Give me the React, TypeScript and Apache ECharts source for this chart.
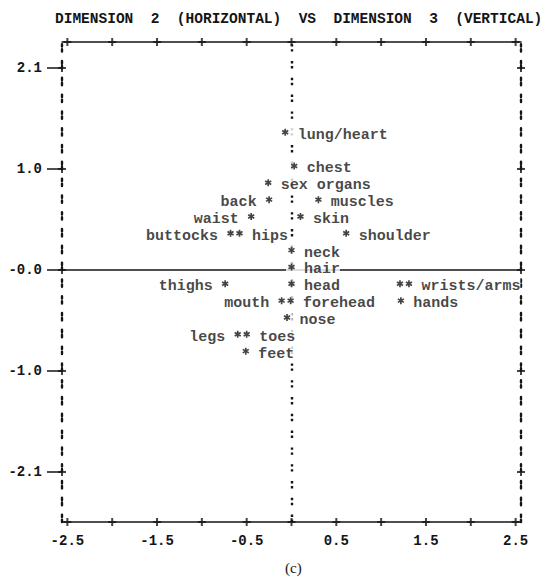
import React, { useEffect, useRef } from "react";
import * as echarts from "echarts";

// ---- data ----
const titleText = "DIMENSION  2  (HORIZONTAL)  VS  DIMENSION  3  (VERTICAL)";
const captionText = "(c)";
const xRange = [-2.56, 2.56];
const yRange = [-2.62, 2.37];
const xTickValues = [-2.5, -2, -1.5, -1, -0.5, 0, 0.5, 1, 1.5, 2, 2.5];
const xLabelValues = [-2.5, -1.5, -0.5, 0.5, 1.5, 2.5];
const yTickValues = [2.1, 1.05, 0, -1.05, -2.1];
const yTickLabels = ["2.1", "1.0", "-0.0", "-1.0", "-2.1"];

const pointNames = [
  "lung/heart", "chest", "sex organs", "back", "muscles", "waist", "skin",
  "buttocks", "hips", "shoulder", "neck", "hair", "thighs", "head", "wrists",
  "arms", "mouth", "forehead", "hands", "nose", "legs", "toes", "feet",
];
const pointX = [
  -0.07, 0.03, -0.26, -0.25, 0.3, -0.45, 0.1,
  -0.68, -0.58, 0.61, 0.0, 0.0, -0.74, 0.0, 1.21,
  1.31, -0.11, -0.01, 1.22, -0.05, -0.6, -0.5, -0.51,
];
const pointY = [
  1.4, 1.05, 0.875, 0.7, 0.7, 0.525, 0.525,
  0.35, 0.35, 0.35, 0.175, 0, -0.175, -0.175, -0.175,
  -0.175, -0.35, -0.35, -0.35, -0.525, -0.7, -0.7, -0.875,
];
const pointLabels = [
  "lung/heart", "chest", "sex organs", "back", "muscles", "waist", "skin",
  "buttocks", "hips", "shoulder", "neck", "hair", "thighs", "head", "",
  "wrists/arms", "mouth", "forehead", "hands", "nose", "legs", "toes", "feet",
];
const labelSide = [
  "right", "right", "right", "left", "right", "left", "right",
  "left", "right", "right", "right", "right", "left", "right", "none",
  "right", "left", "right", "right", "right", "left", "right", "right",
];

// ---- styling ----
const ink = "#151515";
const mono = "'Liberation Mono', 'DejaVu Sans Mono', monospace";
const colonDash = [2.4, 2.6, 2.4, 9.4];
// six-armed asterisk inside a 10x10 box
const asteriskPath =
  "path://M3.8,0 L6.2,0 L6.2,10 L3.8,10 Z " +
  "M0.07,3.54 L1.27,1.46 L9.93,6.46 L8.73,8.54 Z " +
  "M8.73,1.46 L9.93,3.54 L1.27,8.54 L0.07,6.46 Z";
const plusPath = "path://M3,0 L5,0 L5,3 L8,3 L8,5 L5,5 L5,8 L3,8 L3,5 L0,5 L0,3 L3,3 Z";

function buildOption() {
  const frameTicks: number[][] = [];
  xTickValues.forEach((x) => {
    frameTicks.push([x, yRange[1]]);
    frameTicks.push([x, yRange[0]]);
  });
  yTickValues.forEach((y) => {
    frameTicks.push([xRange[0], y]);
    frameTicks.push([xRange[1], y]);
  });

  const points = pointNames.map((name, i) => {
    const left = labelSide[i] === "left";
    return {
      name,
      value: [pointX[i], pointY[i]],
      label: {
        show: labelSide[i] !== "none",
        position: left ? "left" : "right",
        distance: 2,
        padding: left ? [1, 7, 1, 0] : [1, 0, 1, 7],
      },
    };
  });

  const cells = pointNames.map((_, i) => [pointX[i], pointY[i]]);

  const axisLabelStyle = {
    fontFamily: mono,
    fontWeight: "bold" as const,
    fontSize: 14,
    color: ink,
  };

  return {
    animation: false,
    backgroundColor: "#fff",
    title: [
      {
        text: titleText,
        left: 50,
        top: 6,
        textStyle: { fontFamily: mono, fontSize: 14.5, fontWeight: "bold", color: ink },
      },
      {
        text: captionText,
        left: 280,
        top: 555,
        textStyle: { fontFamily: "'Liberation Serif', serif", fontSize: 15, fontWeight: "normal", color: ink },
      },
    ],
    grid: { left: 62, right: 26, top: 42, bottom: 55 },
    xAxis: [
      {
        type: "value",
        position: "bottom",
        min: xRange[0],
        max: xRange[1],
        axisLine: { show: true, onZero: false, lineStyle: { color: ink, width: 1.5 } },
        axisTick: { show: false },
        splitLine: { show: false },
        axisLabel: {
          ...axisLabelStyle,
          customValues: xLabelValues,
          formatter: (v: number) => v.toFixed(1),
          margin: 12,
        },
      },
      {
        type: "value",
        position: "top",
        min: xRange[0],
        max: xRange[1],
        axisLine: { show: true, onZero: false, lineStyle: { color: ink, width: 1.5 } },
        axisTick: { show: false },
        splitLine: { show: false },
        axisLabel: { show: false },
      },
    ],
    yAxis: [
      {
        type: "value",
        position: "left",
        min: yRange[0],
        max: yRange[1],
        axisLine: { show: true, onZero: false, lineStyle: { color: ink, width: 2.4, type: colonDash } },
        axisTick: { show: true, customValues: yTickValues, length: 15, lineStyle: { color: ink, width: 1.5 } },
        splitLine: { show: false },
        axisLabel: {
          ...axisLabelStyle,
          customValues: yTickValues,
          margin: 20,
          formatter: (v: number) => {
            const i = yTickValues.findIndex((t) => Math.abs(t - v) < 1e-6);
            return i >= 0 ? yTickLabels[i] : "";
          },
        },
      },
      {
        type: "value",
        position: "right",
        min: yRange[0],
        max: yRange[1],
        axisLine: { show: true, onZero: false, lineStyle: { color: ink, width: 2.4, type: colonDash } },
        axisTick: { show: false },
        splitLine: { show: false },
        axisLabel: { show: false },
      },
    ],
    series: [
      {
        type: "scatter",
        name: "frame",
        z: 1,
        silent: true,
        symbol: plusPath,
        symbolSize: 8,
        itemStyle: { color: ink },
        data: frameTicks,
        markLine: {
          z: 1,
          silent: true,
          symbol: ["none", "none"],
          label: { show: false },
          data: [
            { xAxis: 0, lineStyle: { color: ink, width: 2.4, type: colonDash } },
            { yAxis: 0, lineStyle: { color: ink, width: 1.5, type: "solid" } },
          ],
        },
      },
      {
        // blank typewriter cells under each asterisk
        type: "scatter",
        name: "cells",
        z: 3,
        silent: true,
        symbol: "rect",
        symbolSize: [11, 15],
        itemStyle: { color: "#fff" },
        data: cells,
      },
      {
        type: "scatter",
        name: "points",
        z: 5,
        symbol: asteriskPath,
        symbolSize: 7,
        symbolKeepAspect: true,
        symbolOffset: [0, -3],
        itemStyle: { color: ink },
        label: {
          fontFamily: mono,
          fontWeight: "bold",
          fontSize: 15,
          color: ink,
          backgroundColor: "#fff",
          offset: [0, 3],
          formatter: (p: any) => pointLabels[p.dataIndex],
        },
        data: points,
      },
    ],
  };
}

export default function App() {
  const ref = useRef<HTMLDivElement>(null);
  useEffect(() => {
    if (!ref.current) return;
    const chart = echarts.init(ref.current, null, { renderer: "svg" });
    chart.setOption(buildOption() as any);
    return () => chart.dispose();
  }, []);
  return (
    <div
      ref={ref}
      style={{ position: "fixed", left: 0, top: 0, width: 547, height: 577, background: "#fff" }}
    />
  );
}
